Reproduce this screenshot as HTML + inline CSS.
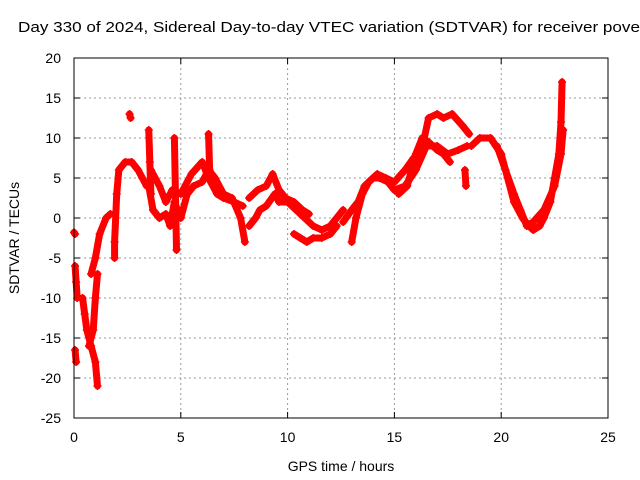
<!DOCTYPE html>
<html><head><meta charset="utf-8"><style>
body{margin:0;background:#fff;overflow:hidden;}
svg{display:block;font-family:"Liberation Sans",sans-serif;}
</style></head><body>
<svg id="chart" width="640" height="480">
<text x="18" y="32" font-size="15" fill="#000" textLength="622" lengthAdjust="spacingAndGlyphs">Day 330 of 2024, Sidereal Day-to-day VTEC variation (SDTVAR) for receiver pove</text>
<g id="grid"></g>
<g id="ticks"></g>
<g id="marks"></g>
<rect x="74" y="58" width="534" height="360" fill="none" stroke="#000" stroke-width="1"/>
<text x="341" y="471" font-size="14" text-anchor="middle">GPS time / hours</text>
<text transform="translate(19,238) rotate(-90)" font-size="14" text-anchor="middle">SDTVAR / TECUs</text>
</svg>
<script>
const xTicks=[0,5,10,15,20,25];
const yTicks=[20,15,10,5,0,-5,-10,-15,-20,-25];
const seg1=[[0,-1.8],[0.05,-2]];
const seg2=[[0.05,-6],[0.1,-8],[0.15,-10]];
const seg3=[[0.05,-16.5],[0.1,-18]];
const seg4=[[0.4,-10],[0.5,-12],[0.6,-14],[0.8,-16],[1.0,-18],[1.1,-21]];
const seg5=[[0.7,-16],[0.9,-14],[1.0,-10],[1.1,-7]];
const seg6=[[0.8,-7],[1.0,-5],[1.2,-2],[1.5,0],[1.7,0.5]];
const seg7=[[1.9,-5],[1.9,-3],[2.0,3],[2.1,6],[2.4,7],[2.7,7],[3.0,6],[3.2,5],[3.4,4]];
const seg8=[[3.5,4],[3.7,1],[4.0,0],[4.3,0.5],[4.5,-1],[4.7,2],[5.0,0],[5.3,3],[5.6,4],[6.0,4.5],[6.3,6],[6.6,5],[7.0,3],[7.4,2.5],[7.8,0],[8.0,-3]];
const seg9=[[3.6,6],[4.0,4],[4.3,2],[4.6,3.5],[5.0,3],[5.5,5.5],[6.0,7],[6.3,5],[6.7,3],[7.0,2.5],[7.5,2],[7.9,1.5]];
const seg10=[[3.5,11],[3.55,7],[3.6,3]];
const seg11=[[4.7,10],[4.75,3],[4.8,-4]];
const seg12=[[6.3,10.5],[6.35,6]];
const seg13=[[2.6,13],[2.65,12.5]];
const seg14=[[8.2,-1],[8.5,0],[8.7,1],[9.0,1.5],[9.4,3],[9.6,2],[10,2],[10.4,1],[10.8,0],[11.2,-1],[11.6,-1.5],[12.0,-1],[12.3,0],[12.6,1]];
const seg15=[[8.2,2.5],[8.6,3.5],[9.0,4],[9.3,5.5],[9.6,3.5],[9.9,2.5],[10.3,2],[10.7,1],[11.0,0.5]];
const seg16=[[10.3,-2],[10.6,-2.5],[10.9,-3],[11.2,-2.5],[11.6,-2.5],[12,-2],[12.3,-1]];
const seg17=[[12.6,-0.5],[13.0,1],[13.3,2],[13.6,4],[14.0,5],[14.3,5],[14.7,4.5],[15.0,3.5],[15.5,4],[16.0,6],[16.5,9],[17,9],[17.5,8],[18,8.5],[18.4,9]];
const seg18=[[13.0,-3],[13.2,0],[13.5,3],[13.8,4.5],[14.2,5.5],[14.6,5],[15,4.5],[15.5,6],[15.9,7.5]];
const seg19=[[15.2,3],[15.6,4],[16.0,8],[16.3,10],[16.6,9.5],[17,8.5],[17.3,8],[17.6,7]];
const seg20=[[16.2,7.5],[16.6,12.5],[17.0,13],[17.3,12.5],[17.7,13],[18.2,11.5],[18.5,10.5]];
const seg21=[[18.6,9],[19.0,10],[19.5,10],[20.0,8],[20.3,5],[20.6,2],[21.0,0],[21.3,-1],[21.5,-1.5],[21.8,-1],[22.0,0],[22.3,2],[22.5,5],[22.7,8],[22.8,12],[22.85,17]];
const seg22=[[19.8,9],[20.2,6],[20.6,3],[20.9,1],[21.2,-1],[21.5,-0.5],[22,1],[22.5,4],[22.8,8],[22.9,11]];
const seg23=[[18.3,6],[18.35,4]];
const series=[seg1,seg2,seg3,seg4,seg5,seg6,seg7,seg8,seg9,seg10,seg11,seg12,seg13,seg14,seg15,seg16,seg17,seg18,seg19,seg20,seg21,seg22,seg23];

const X0=74,X1=608,Y0=418,Y1=58;
const xs=h=>X0+(h-0)/(25-0)*(X1-X0);
const ys=v=>Y0-(v+25)/(20+25)*(Y0-Y1);
const NS="http://www.w3.org/2000/svg";
const grid=document.getElementById('grid'),ticks=document.getElementById('ticks'),marks=document.getElementById('marks');
function mk(tag,attrs,parent){const e=document.createElementNS(NS,tag);for(const k in attrs)e.setAttribute(k,attrs[k]);parent.appendChild(e);return e;}
xTicks.forEach(t=>{
  const x=xs(t);
  if(t>0&&t<25){const g=mk('line',{x1:x,x2:x,y1:Y1,y2:Y0,stroke:'#999','stroke-dasharray':'2,3'},grid);
  
  }
  const l=mk('text',{x:x,y:Y0+24,'font-size':14,'text-anchor':'middle'},ticks);l.textContent=t;
  
  
  mk('line',{x1:x,x2:x,y1:Y0,y2:Y0-6,stroke:'#000'},ticks);mk('line',{x1:x,x2:x,y1:Y1,y2:Y1+6,stroke:'#000'},ticks);
});
yTicks.forEach(t=>{
  const y=ys(t);
  if(t>-25&&t<20){const g=mk('line',{x1:X0,x2:X1,y1:y,y2:y,stroke:'#999','stroke-dasharray':'2,3'},grid);
  
  }
  const l=mk('text',{x:X0-13,y:y+5,'font-size':14,'text-anchor':'end'},ticks);l.textContent=t;
  
  
  mk('line',{x1:X0,x2:X0+6,y1:y,y2:y,stroke:'#000'},ticks);mk('line',{x1:X1,x2:X1-6,y1:y,y2:y,stroke:'#000'},ticks);
});
series.forEach((s,i)=>{
  const pl=mk('polyline',{points:s.map(p=>xs(p[0])+','+ys(p[1])).join(' '),fill:'none',stroke:'#f00','stroke-width':7,'stroke-linejoin':'round','stroke-linecap':'round'},marks);
  
  
  s.forEach(p=>{
    const x=xs(p[0]),y=ys(p[1]);
    const m=mk('path',{d:`M${x-4},${y}h8M${x},${y-4}v8`,stroke:'#f00','stroke-width':1.5},marks);
    
    
  });
});
</script>
</body></html>
